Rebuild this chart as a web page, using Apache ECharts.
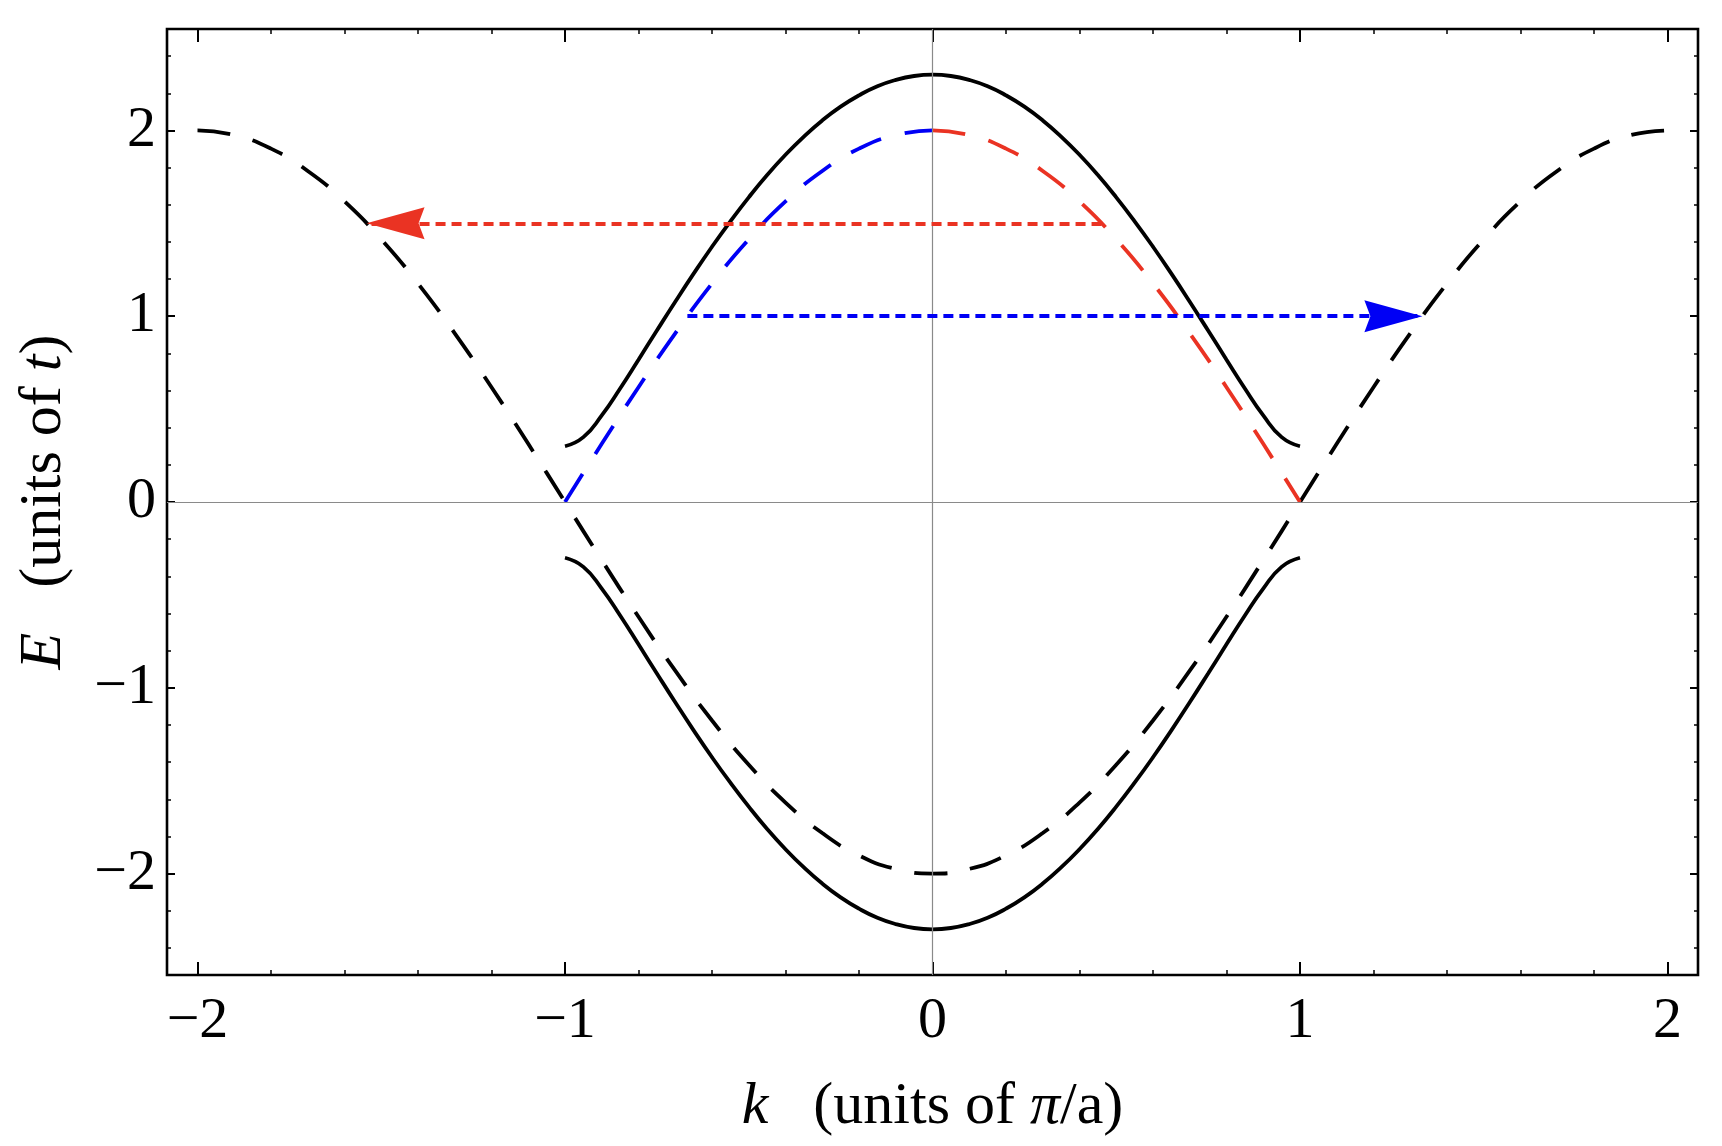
<!DOCTYPE html>
<html><head><meta charset="utf-8">
<script src="https://cdn.jsdelivr.net/npm/echarts@6/dist/echarts.min.js"></script>
<style>html,body{margin:0;padding:0;background:#fff}#c{width:1722px;height:1146px}</style>
</head><body><div id="c"></div>
<script>
// ---- data ----
const kFolded = [-2.0,-1.9,-1.8,-1.7,-1.6,-1.5,-1.4,-1.3,-1.2,-1.1,-1.0,-0.9,-0.8,-0.7,-0.6,-0.5,-0.4,-0.3,-0.2,-0.1,0.0,0.1,0.2,0.3,0.4,0.5,0.6,0.7,0.8,0.9,1.0,1.1,1.2,1.3,1.4,1.5,1.6,1.7,1.8,1.9,2.0];
const eFolded = [2.000,1.975,1.902,1.782,1.618,1.414,1.176,0.908,0.618,0.313,0.000,-0.313,-0.618,-0.908,-1.176,-1.414,-1.618,-1.782,-1.902,-1.975,-2.000,-1.975,-1.902,-1.782,-1.618,-1.414,-1.176,-0.908,-0.618,-0.313,0.000,0.313,0.618,0.908,1.176,1.414,1.618,1.782,1.902,1.975,2.000];

const kGap = [-1.00,-0.95,-0.90,-0.85,-0.80,-0.75,-0.70,-0.65,-0.60,-0.55,-0.50,-0.45,-0.40,-0.35,-0.30,-0.25,-0.20,-0.15,-0.10,-0.05,0.00,0.05,0.10,0.15,0.20,0.25,0.30,0.35,0.40,0.45,0.50,0.55,0.60,0.65,0.70,0.75,0.80,0.85,0.90,0.95,1.00];
const eGapUpper = [0.300,0.349,0.466,0.611,0.766,0.923,1.078,1.229,1.374,1.511,1.640,1.760,1.869,1.967,2.054,2.128,2.189,2.238,2.272,2.293,2.300,2.293,2.272,2.238,2.189,2.128,2.054,1.967,1.869,1.760,1.640,1.511,1.374,1.229,1.078,0.923,0.766,0.611,0.466,0.349,0.300];
const eGapLower = [-0.300,-0.349,-0.466,-0.611,-0.766,-0.923,-1.078,-1.229,-1.374,-1.511,-1.640,-1.760,-1.869,-1.967,-2.054,-2.128,-2.189,-2.238,-2.272,-2.293,-2.300,-2.293,-2.272,-2.238,-2.189,-2.128,-2.054,-1.967,-1.869,-1.760,-1.640,-1.511,-1.374,-1.229,-1.078,-0.923,-0.766,-0.611,-0.466,-0.349,-0.300];

const kBlue = [-1.0,-0.9,-0.8,-0.7,-0.6,-0.5,-0.4,-0.3,-0.2,-0.1,0.0];
const eBlue = [0.000,0.313,0.618,0.908,1.176,1.414,1.618,1.782,1.902,1.975,2.000];
const kRed = [0.0,0.1,0.2,0.3,0.4,0.5,0.6,0.7,0.8,0.9,1.0];
const eRed = [2.000,1.975,1.902,1.782,1.618,1.414,1.176,0.908,0.618,0.313,0.000];

const redArrowK = [0.46, -1.54];
const redArrowE = [1.5, 1.5];
const blueArrowK = [-0.667, 1.333];
const blueArrowE = [1.0, 1.0];

const xMajorTicks = [-2,-1,0,1,2];
const xTickLabels = ['−2','−1','0','1','2'];
const xMinorTicks = [-1.8,-1.6,-1.4,-1.2,-0.8,-0.6,-0.4,-0.2,0.2,0.4,0.6,0.8,1.2,1.4,1.6,1.8];
const yMajorTicks = [-2,-1,0,1,2];
const yTickLabels = ['−2','−1','0','1','2'];
const yMinorTicks = [-2.4,-2.2,-1.8,-1.6,-1.4,-1.2,-0.8,-0.6,-0.4,-0.2,0.2,0.4,0.6,0.8,1.2,1.4,1.6,1.8,2.2,2.4];

const xRange = [-2.083, 2.083];
const yRange = [-2.546, 2.546];

// ---- chart ----
const FONT = 'Liberation Serif';
const BLACK = '#000000', RED = '#EA3323', BLUE = '#0000F5';
const zip = (ks, es) => ks.map((k, i) => [k, es[i]]);
const labelFor = (ticks, labels) => v => { const i = ticks.findIndex(t => Math.abs(t - v) < 1e-9); return i >= 0 ? labels[i] : ''; };

function xAxisDef(pos, ticks, len, width, withLabels) {
  const a = {
    type: 'value', position: pos, min: xRange[0], max: xRange[1],
    axisLine: { show: false, onZero: false }, splitLine: { show: false },
    axisTick: { show: true, inside: true, length: len, customValues: ticks, lineStyle: { color: BLACK, width: width } },
    axisLabel: { show: false }
  };
  if (withLabels) {
    a.axisLabel = { show: true, customValues: xMajorTicks, formatter: labelFor(xMajorTicks, xTickLabels),
      fontFamily: FONT, fontSize: 58, color: BLACK, margin: 18 };
    a.name = '{i|k}   (units of {i|π}/a)';
    a.nameLocation = 'middle';
    a.nameGap = 102;
    a.nameTextStyle = { fontFamily: FONT, fontSize: 60, color: BLACK,
      rich: { i: { fontFamily: FONT, fontSize: 60, fontStyle: 'italic', color: BLACK } } };
  }
  return a;
}
function yAxisDef(pos, ticks, len, width, withLabels) {
  const a = {
    type: 'value', position: pos, min: yRange[0], max: yRange[1],
    axisLine: { show: false, onZero: false }, splitLine: { show: false },
    axisTick: { show: true, inside: true, length: len, customValues: ticks, lineStyle: { color: BLACK, width: width } },
    axisLabel: { show: false }
  };
  if (withLabels) {
    a.axisLabel = { show: true, customValues: yMajorTicks, formatter: labelFor(yMajorTicks, yTickLabels),
      fontFamily: FONT, fontSize: 58, color: BLACK, margin: 11 };
    a.name = '{i|E}   (units of {i|t})';
    a.nameLocation = 'middle';
    a.nameGap = 93;
    a.nameRotate = 90;
    a.nameTextStyle = { fontFamily: FONT, fontSize: 60, color: BLACK,
      rich: { i: { fontFamily: FONT, fontSize: 60, fontStyle: 'italic', color: BLACK } } };
  }
  return a;
}

const arrowPath = 'path://M16,0 L32,58 L16,52 L0,58 Z';
function arrowSeries(ks, es, color) {
  return {
    type: 'line', data: [[ks[0], es[0]]], showSymbol: false, symbol: 'none',
    lineStyle: { width: 0 }, z: 6, silent: true,
    markLine: {
      silent: true, animation: false,
      symbol: ['none', arrowPath], symbolSize: [32, 58], symbolOffset: [[0, 0], [0, 29]],
      label: { show: false }, emphasis: { disabled: true },
      lineStyle: { color: color, width: 3.8, type: [10, 6], opacity: 1 },
      itemStyle: { color: color },
      data: [[{ coord: [ks[0], es[0]] }, { coord: [ks[1], es[1]] }]]
    }
  };
}

const chart = echarts.init(document.getElementById('c'), null, { renderer: 'canvas' });
chart.setOption({
  animation: false,
  backgroundColor: '#ffffff',
  grid: { left: 167, top: 29, right: 24, bottom: 171, show: true, borderColor: BLACK, borderWidth: 2.6, backgroundColor: 'transparent' },
  xAxis: [
    xAxisDef('bottom', xMajorTicks, 13, 2, true),
    xAxisDef('bottom', xMinorTicks, 5, 1.5, false),
    xAxisDef('top', xMajorTicks, 13, 2, false),
    xAxisDef('top', xMinorTicks, 5, 1.5, false)
  ],
  yAxis: [
    yAxisDef('left', yMajorTicks, 8, 2, true),
    yAxisDef('left', yMinorTicks, 4, 1.5, false),
    yAxisDef('right', yMajorTicks, 8, 2, false),
    yAxisDef('right', yMinorTicks, 4, 1.5, false)
  ],
  series: [
    { type: 'line', data: [[0, 0]], showSymbol: false, symbol: 'none', lineStyle: { width: 0 }, z: 1, silent: true,
      markLine: { silent: true, animation: false, symbol: ['none', 'none'], label: { show: false }, emphasis: { disabled: true },
        lineStyle: { color: '#8a8a8a', width: 1.2, type: 'solid' },
        data: [{ xAxis: 0 }, { yAxis: 0 }] } },
    { type: 'line', data: zip(kFolded, eFolded), smooth: true, showSymbol: false, symbol: 'none', z: 2, silent: true,
      lineStyle: { color: BLACK, width: 3.8, type: [33, 23] } },
    { type: 'line', data: zip(kGap, eGapUpper), smooth: true, showSymbol: false, symbol: 'none', z: 3, silent: true,
      lineStyle: { color: BLACK, width: 3.8, type: 'solid' } },
    { type: 'line', data: zip(kGap, eGapLower), smooth: true, showSymbol: false, symbol: 'none', z: 3, silent: true,
      lineStyle: { color: BLACK, width: 3.8, type: 'solid' } },
    { type: 'line', data: zip(kBlue, eBlue), smooth: true, showSymbol: false, symbol: 'none', z: 4, silent: true,
      lineStyle: { color: BLUE, width: 3.8, type: [33, 24] } },
    { type: 'line', data: zip(kRed, eRed), smooth: true, showSymbol: false, symbol: 'none', z: 4, silent: true,
      lineStyle: { color: RED, width: 3.8, type: [33, 24] } },
    arrowSeries(redArrowK, redArrowE, RED),
    arrowSeries(blueArrowK, blueArrowE, BLUE)
  ]
});
</script></body></html>
